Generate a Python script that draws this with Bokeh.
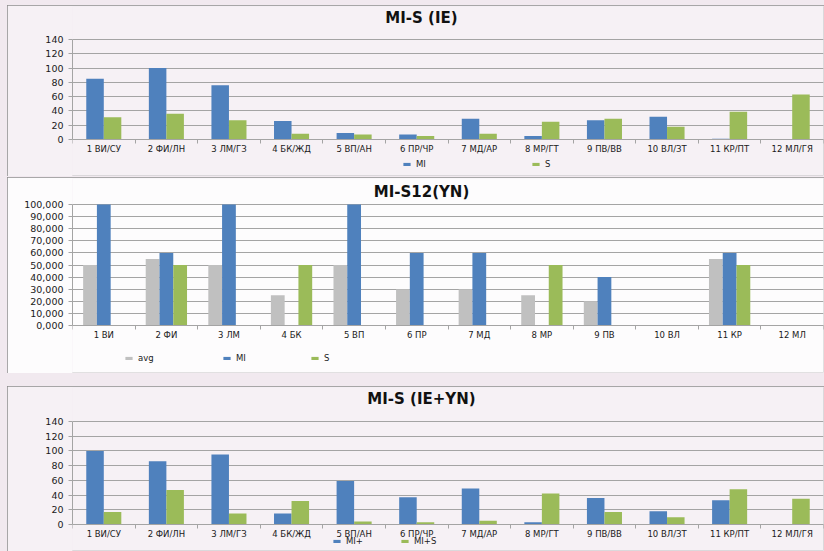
import numpy as np
from bokeh.plotting import figure
from bokeh.models import (ColumnDataSource, FixedTicker, Legend, LegendItem,
                          Range1d, Label)
from bokeh.layouts import column
from bokeh.embed import file_html
from bokeh.resources import INLINE
from bokeh.transform import dodge

# Category labels
cats_pair = ["1 ВИ/СУ", "2 ФИ/ЛН", "3 ЛМ/ГЗ", "4 БК/ЖД", "5 ВП/АН", "6 ПР/ЧР",
             "7 МД/АР", "8 МР/ГТ", "9 ПВ/ВВ", "10 ВЛ/ЗТ", "11 КР/ПТ", "12 МЛ/ГЯ"]
cats_single = ["1 ВИ", "2 ФИ", "3 ЛМ", "4 БК", "5 ВП", "6 ПР",
               "7 МД", "8 МР", "9 ПВ", "10 ВЛ", "11 КР", "12 МЛ"]

# MI-S (IE)
ie_mi = [85, 100, 76, 26, 9, 7, 29, 5, 27, 32, 1, 0]
ie_s = [31, 36, 27, 8, 7, 5, 8, 25, 29, 18, 39, 63]

# MI-S12(YN)
yn_avg = [50, 55, 50, 25, 50, 30, 30, 25, 20, 0, 55, 0]
yn_mi = [100, 60, 100, 0, 100, 60, 60, 0, 40, 0, 60, 0]
yn_s = [0, 50, 0, 50, 0, 0, 0, 50, 0, 0, 50, 0]

# MI-S (IE+YN)
sum_mi = [100, 86, 95, 15, 59, 37, 49, 3, 36, 18, 33, 0]
sum_mis = [17, 47, 15, 32, 4, 3, 5, 42, 17, 10, 48, 35]

ticks_pct = [0, 20, 40, 60, 80, 100, 120, 140]
ticks_yn = [0, 10, 20, 30, 40, 50, 60, 70, 80, 90, 100]

BLUE = "#4f81bd"
GREEN = "#9bbb59"
GREY = "#c0c0c0"
FONT = "DejaVu Sans"
GRID = "#a4a4a4"
TEXT = "#1a1a1a"

FIG_W = 817
BORDER_L = 65
BORDER_R = 1


def make_chart(title, labels, series, ticks, tick_fmt, height,
               zero_px, top_px, title_px, bar_w, offsets, legend_x, legend_y, bg, margin):
    """Pixel arguments are measured from the top of this chart's box."""
    n = len(labels)
    centers = np.arange(n) + 0.5
    data = {"x": centers}
    for name, vals, _ in series:
        data[name] = vals
    src = ColumnDataSource(data)

    # the plotting frame fills the whole box; the value axis only spans the ticks
    frame_top, frame_bottom = 1, height - 1
    ymax = ticks[-1]
    ppu = (zero_px - top_px) / ymax
    y_end = ymax + (top_px - frame_top) / ppu
    y_start = -(frame_bottom - zero_px) / ppu
    frame_w = FIG_W - BORDER_L - BORDER_R

    p = figure(width=FIG_W, height=height, output_backend="svg", toolbar_location=None,
               x_range=Range1d(0, n), y_range=Range1d(y_start, y_end),
               min_border_left=BORDER_L, min_border_right=BORDER_R,
               min_border_top=frame_top, min_border_bottom=1,
               background_fill_color=bg, border_fill_color=bg,
               outline_line_color=None, margin=margin,
               styles={"outline": "1px solid #8c8c8c", "outline-offset": "-1px"})

    items = []
    for (name, vals, color), off in zip(series, offsets):
        r = p.vbar(x=dodge("x", off), top=name, width=bar_w, source=src,
                   fill_color=color, line_color=None)
        items.append(LegendItem(label=name, renderers=[r]))

    # category axis pinned at zero: labels centred, tick marks on boundaries
    xa = p.xaxis[0]
    xa.fixed_location = 0
    xa.ticker = FixedTicker(ticks=list(centers), minor_ticks=list(np.arange(n + 1)))
    xa.major_label_overrides = {float(c): lab for c, lab in zip(centers, labels)}
    xa.major_tick_line_color = None
    xa.major_tick_out = 0
    xa.major_tick_in = 0
    xa.minor_tick_line_color = GRID
    xa.minor_tick_out = 4
    xa.minor_tick_in = 0
    xa.axis_line_color = GRID
    xa.major_label_text_font = FONT
    xa.major_label_text_font_size = "8.5px"
    xa.major_label_text_color = TEXT
    xa.major_label_standoff = 0

    ya = p.yaxis[0]
    ya.bounds = (0, ymax)
    ya.ticker = FixedTicker(ticks=ticks)
    ya.major_label_overrides = {t: tick_fmt(t) for t in ticks}
    ya.axis_line_color = GRID
    ya.major_tick_line_color = GRID
    ya.major_tick_out = 4
    ya.major_tick_in = 0
    ya.minor_tick_line_color = None
    ya.major_label_text_font = FONT
    ya.major_label_text_font_size = "9.5px"
    ya.major_label_text_color = TEXT
    ya.major_label_standoff = 5

    p.xgrid.grid_line_color = None
    p.ygrid.grid_line_color = GRID
    p.ygrid.grid_line_width = 1

    # chart title
    px_per_cat = frame_w / n
    title_x = (421 - 7 - BORDER_L) / px_per_cat
    title_y = (zero_px - title_px) / ppu
    p.add_layout(Label(x=title_x, y=title_y, text=title, text_font=FONT,
                       text_font_size="15px", text_font_style="bold",
                       text_color="#111111", text_align="center",
                       text_baseline="middle"))

    for item, lx in zip(items, legend_x):
        lg = Legend(items=[item], location=(lx, legend_y), orientation="horizontal",
                    padding=0, margin=0, spacing=0, border_line_color=None,
                    background_fill_alpha=0, glyph_width=9, glyph_height=4,
                    label_standoff=5, label_text_font=FONT,
                    label_text_font_size="8.5px", label_text_color=TEXT)
        p.add_layout(lg, "center")
    return p


fmt_int = lambda t: f"{t}"
fmt_dec = lambda t: f"{t:.3f}".replace(".", ",")

p1 = make_chart("MI-S (IE)", cats_pair,
                [("MI", ie_mi, BLUE), ("S", ie_s, GREEN)],
                ticks_pct, fmt_int, 171, 134, 34, 12, 0.28, [-0.14, 0.14],
                [330, 459], 6, "#f6f1f5", (5, 0, 0, 7))

p2 = make_chart("MI-S12(YN)", cats_single,
                [("avg", yn_avg, GREY), ("MI", yn_mi, BLUE), ("S", yn_s, GREEN)],
                ticks_yn, fmt_dec, 196, 148, 27, 14, 0.22, [-0.22, 0.0, 0.22],
                [52, 150, 238], 9, "#fdfcfd", (1, 0, 0, 7))

p3 = make_chart("MI-S (IE+YN)", cats_pair,
                [("MI+", sum_mi, BLUE), ("MI+S", sum_mis, GREEN)],
                ticks_pct, fmt_int, 165, 138, 35, 12, 0.28, [-0.14, 0.14],
                [260, 328], 4, "#f6f1f5", (13, 0, 0, 7))

layout = column(p1, p2, p3, spacing=0,
                styles={"background-color": "#f1e9ef", "width": "824px", "height": "551px"})

open("out.html", "w").write(file_html(layout, INLINE))
